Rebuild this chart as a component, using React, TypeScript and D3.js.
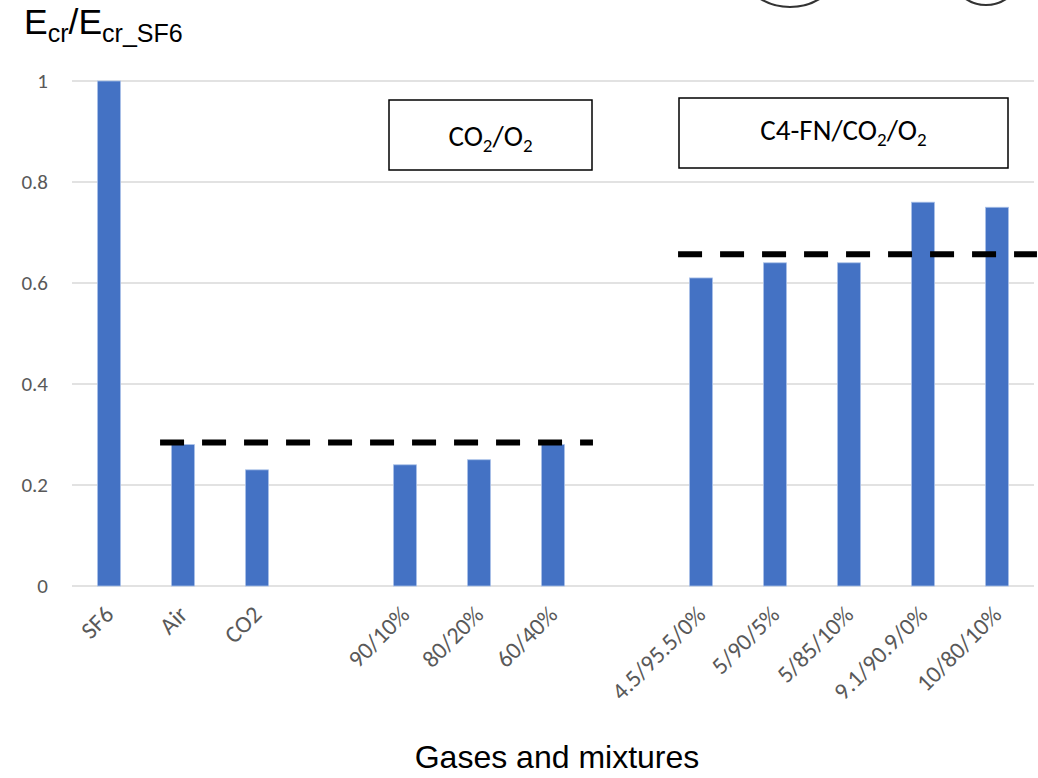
import React from "react";
import * as d3 from "d3";

const categories = ["SF6", "Air", "CO2", "", "90/10%", "80/20%", "60/40%", " ", "4.5/95.5/0%", "5/90/5%", "5/85/10%", "9.1/90.9/0%", "10/80/10%"];
const values: (number | null)[] = [1, 0.28, 0.23, null, 0.24, 0.25, 0.28, null, 0.61, 0.64, 0.64, 0.76, 0.75];
const yTicks = [0, 0.2, 0.4, 0.6, 0.8, 1];
const avgLines = [
  { from: "Air", to: "60/40%", value: 0.284 },
  { from: "4.5/95.5/0%", to: "10/80/10%", value: 0.657 },
];

const W = 1038, H = 778;
const plot = { left: 72, right: 1034, top: 81, bottom: 586 };
const calibri = "Carlito, Lato, 'Open Sans', sans-serif";
const arial = "'Liberation Sans', Arial, sans-serif";

export default function App() {
  const x = d3.scaleBand<string>().domain(categories).range([plot.left, plot.right]).paddingInner(0.69).paddingOuter(0.345);
  const y = d3.scaleLinear().domain([0, 1]).range([plot.bottom, plot.top]);
  const cx = (c: string) => (x(c) as number) + x.bandwidth() / 2;
  const step = x.step();

  return (
    <svg width={W} height={H} style={{ position: "absolute", left: 0, top: 0, background: "#fff" }}>
      {/* partial circles at top */}
      <circle cx={790} cy={-50} r={57} fill="none" stroke="#333" strokeWidth={2.2} />
      <circle cx={986} cy={-31} r={36} fill="none" stroke="#333" strokeWidth={2.2} />

      {/* gridlines */}
      {yTicks.map((t) => (
        <g key={t}>
          <line x1={plot.left} x2={plot.right} y1={y(t)} y2={y(t)} stroke="#d9d9d9" strokeWidth={1.5} />
          <text x={48} y={y(t)} dy="0.35em" textAnchor="end" fontFamily={calibri} fontSize={21} fill="#595959">
            {d3.format("~g")(t)}
          </text>
        </g>
      ))}

      {/* bars */}
      {categories.map((c, i) =>
        values[i] == null ? null : (
          <rect key={c} x={x(c)} y={y(values[i] as number)} width={x.bandwidth()} height={plot.bottom - y(values[i] as number)}
            fill="#4472c4" stroke="#a9c0e8" strokeWidth={0.8} />
        )
      )}

      {/* dashed average lines */}
      {avgLines.map((l, i) => (
        <line key={i} x1={cx(l.from) - step * 0.31} x2={cx(l.to) + step * 0.54} y1={y(l.value)} y2={y(l.value)}
          stroke="#000" strokeWidth={6} strokeDasharray="24 18" />
      ))}

      {/* x labels */}
      {categories.map((c) =>
        c.trim() === "" ? null : (
          <text key={c} transform={`translate(${cx(c) + 6},${plot.bottom + 30}) rotate(-45)`} textAnchor="end"
            fontFamily={calibri} fontSize={24} fill="#595959">
            {c}
          </text>
        )
      )}

      {/* annotation boxes */}
      <rect x={389} y={100} width={203} height={70} fill="#fff" stroke="#000" strokeWidth={1.5} />
      <text x={490.5} y={146} textAnchor="middle" fontFamily={calibri} fontSize={29} fill="#000">
        CO<tspan fontSize={19} dy={6}>2</tspan><tspan fontSize={29} dy={-6}>/O</tspan><tspan fontSize={19} dy={6}>2</tspan>
      </text>
      <rect x={679} y={98} width={329} height={70} fill="#fff" stroke="#000" strokeWidth={1.5} />
      <text x={843.5} y={140} textAnchor="middle" fontFamily={calibri} fontSize={29} fill="#000">
        C4-FN/CO<tspan fontSize={19} dy={6}>2</tspan><tspan fontSize={29} dy={-6}>/O</tspan><tspan fontSize={19} dy={6}>2</tspan>
      </text>

      {/* y title */}
      <text x={24} y={34} fontFamily={arial} fontSize={35.5} fill="#000">
        E<tspan fontSize={25} dy={8}>cr</tspan><tspan fontSize={35.5} dy={-8}>/E</tspan><tspan fontSize={25} dy={8}>cr_SF6</tspan>
      </text>

      {/* x title */}
      <text x={557} y={768} textAnchor="middle" fontFamily={arial} fontSize={32} fill="#000">
        Gases and mixtures
      </text>
    </svg>
  );
}
